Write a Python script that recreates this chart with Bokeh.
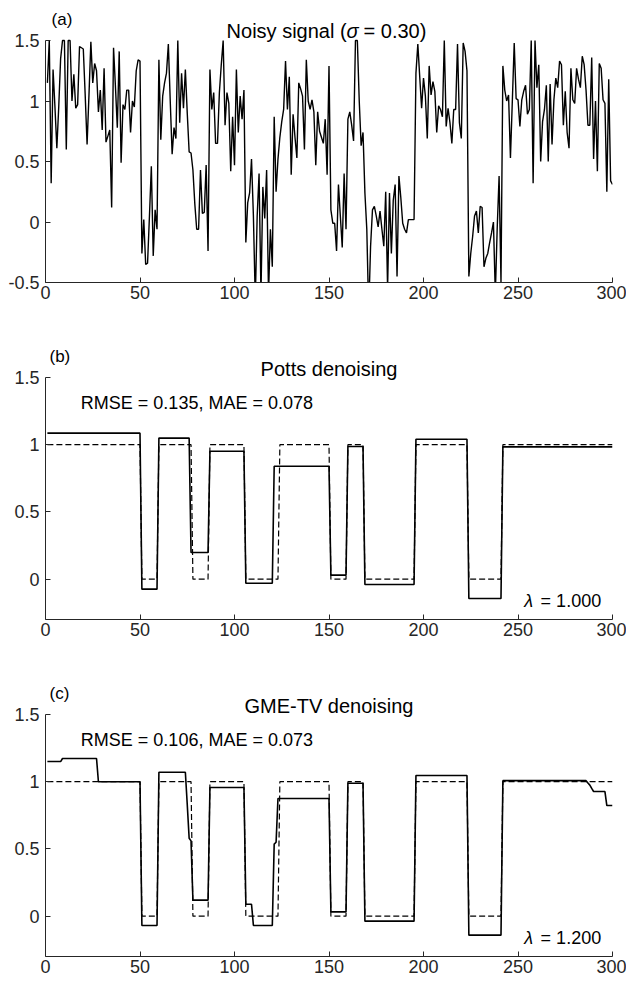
import numpy as np
from bokeh.plotting import figure
from bokeh.models import Range1d, FixedTicker, Label, CustomJSTickFormatter
from bokeh.layouts import column
from bokeh.embed import file_html
from bokeh.resources import INLINE

FONT = "Liberation Sans"

# ---------------- data ----------------
samples = list(range(1, 301))

noisy = [
    1.15, 1.50, 0.32, 1.26, 0.95, 0.61, 0.95, 1.35, 1.50, 1.50,
    0.60, 1.50, 1.50, 1.00, 1.22, 0.94, 0.97, 1.45, 1.44, 1.43,
    1.05, 0.64, 1.05, 1.49, 1.15, 1.31, 1.25, 0.91, 1.09, 0.76,
    1.27, 0.66, 0.71, 0.76, 0.12, 1.44, 1.12, 0.78, 1.41, 0.49,
    0.97, 0.93, 1.09, 1.09, 0.74, 1.00, 0.95, 1.25, 1.34, 1.33,
    -0.26, 0.02, -0.35, -0.34, 0.05, 0.46, -0.28, 0.10, -0.06, 1.34,
    0.68, 1.04, 1.15, 1.23, 1.47, 1.00, 0.56, 0.78, 0.69, 1.50,
    0.82, 1.23, 0.94, 1.26, 0.90, 0.58, 0.57, 0.43, 0.15, -0.06,
    -0.06, 0.43, 0.07, 0.08, 0.47, -0.24, 1.26, 0.93, 1.07, 0.65,
    0.65, 1.07, 1.30, 1.50, 0.80, 1.07, 0.98, 0.42, 0.87, 0.47,
    1.26, 0.74, 1.04, 0.85, 1.09, -0.17, 0.16, 0.24, 0.52, 0.05,
    -0.65, 0.05, 0.40, -0.60, 0.29, 0.03, 0.43, -0.60, -0.06, -0.37,
    0.87, 0.25, 0.52, 0.70, 0.83, 0.93, 1.33, 0.93, 1.20, 0.39,
    0.89, 0.70, 0.53, 1.15, 1.10, 1.04, 0.60, 1.34, 1.00, 0.93,
    1.01, 0.91, 0.47, 0.91, 0.75, 0.70, 0.65, 0.85, 0.39, 1.29,
    0.10, -0.01, -0.01, -0.24, 0.31, 0.05, -0.21, 0.40, -0.06, 0.85,
    0.91, 0.80, 0.67, 1.50, 1.50, 1.00, 0.63, 0.74, 0.24, -0.06,
    -0.75, -0.20, 0.10, 0.13, 0.05, -0.04, 0.09, -0.06, -0.20, 0.25,
    -0.55, 0.24, -0.26, 0.18, 0.31, -0.45, 0.38, 0.20, -0.01, -0.06,
    -0.09, 0.02, 0.02, 0.02, 0.02, 1.23, 1.47, 1.20, 0.94, 1.19,
    1.04, 0.69, 1.29, 1.05, 1.16, 1.08, 0.74, 0.96, 0.93, 0.87,
    1.50, 0.79, 0.94, 0.82, 0.65, 0.93, 0.93, 1.47, 0.82, 0.69,
    1.48, 1.41, 1.25, -0.45, -0.26, -0.12, 0.05, 0.09, -0.09, 0.13,
    0.12, -0.37, -0.30, -0.26, -0.17, -0.09, 0.00, -0.60, -0.05, 0.38,
    -0.50, 1.29, 1.09, 1.00, 1.05, 0.53, 1.00, 1.48, 1.02, 1.01,
    0.79, 1.01, 1.08, 1.13, 0.89, 0.93, 1.50, 0.32, 1.50, 1.11,
    1.30, 0.50, 0.83, 0.93, 1.13, 0.50, 1.14, 0.64, 1.01, 1.19,
    1.11, 1.33, 1.30, 0.80, 1.08, 0.74, 0.61, 1.27, 1.01, 0.98,
    1.27, 1.18, 1.11, 1.37, 1.30, 1.09, 0.80, 0.80, 1.36, 0.52,
    1.00, 0.42, 1.31, 1.27, 1.01, 0.98, 0.25, 1.18, 0.34, 0.31,
]

# piecewise-constant signals: first sample of each segment and its level
truth_starts = [1, 51, 60, 78, 87, 106, 124, 151, 160, 169, 196, 224, 242]
truth_levels = [1, 0, 1, 0, 1, 0, 1, 0, 1, 0, 1, 0, 1]

potts_starts = [1, 51, 60, 77, 87, 106, 121, 151, 160, 169, 196, 224, 242]
potts_levels = [1.086, -0.074, 1.049, 0.198, 0.952, -0.030, 0.840, 0.030,
                0.987, -0.040, 1.041, -0.144, 0.984]

gme_starts = [1, 9, 28, 51, 60, 75, 76, 77, 78, 87, 106, 110, 121, 122, 123,
              151, 160, 169, 196, 224, 242, 287, 288, 289, 290, 297]
gme_levels = [1.150, 1.173, 1.000, -0.069, 1.071, 0.830, 0.580, 0.560, 0.119,
              0.957, 0.089, -0.069, 0.536, 0.550, 0.875, 0.032, 0.989, -0.037,
              1.046, -0.141, 1.008, 0.990, 0.975, 0.950, 0.927, 0.823]

x_ticks = [0, 50, 100, 150, 200, 250, 300]
y_ticks_a = [-0.5, 0, 0.5, 1, 1.5]
y_ticks_bc = [0, 0.5, 1, 1.5]

title_a = ("Noisy signal (", "\u03c3", "= 0.30)")
title_b = "Potts denoising"
title_c = "GME-TV denoising"
metrics_b = "RMSE = 0.135, MAE = 0.078"
metrics_c = "RMSE = 0.106, MAE = 0.073"
lam_b = "= 1.000"
lam_c = "= 1.200"


def steps(starts, levels, n=300):
    bounds = list(starts) + [n + 1]
    out = []
    for i, lv in enumerate(levels):
        out += [lv] * (bounds[i + 1] - bounds[i])
    return out


truth = steps(truth_starts, truth_levels)
potts = steps(potts_starts, potts_levels)
gme = steps(gme_starts, gme_levels)

AX = "#262626"
W = 626
LEFT = 45
RIGHT = 14
TITLE_GAP = 9


def make_fig(height, bottom, ylo, yhi, head_px, plot_px, yticks):
    # frame extends above the axis top by head_px pixels (room for titles)
    span = yhi - ylo
    ytop = yhi + head_px * span / plot_px
    p = figure(width=W, height=height, x_range=Range1d(0, 300),
               y_range=Range1d(ylo, ytop), output_backend="svg",
               toolbar_location=None, min_border_left=LEFT,
               min_border_right=RIGHT, min_border_top=0,
               min_border_bottom=bottom)
    p.outline_line_color = None
    p.xgrid.visible = False
    p.ygrid.visible = False
    p.xaxis.ticker = FixedTicker(ticks=x_ticks)
    p.yaxis.ticker = FixedTicker(ticks=yticks)
    p.yaxis.bounds = (ylo, yhi)
    p.yaxis.formatter = CustomJSTickFormatter(code="return tick.toString();")
    for ax in (p.xaxis[0], p.yaxis[0]):
        ax.axis_line_color = AX
        ax.axis_line_width = 1
        ax.major_tick_line_color = AX
        ax.major_tick_in = 5
        ax.major_tick_out = 0
        ax.minor_tick_line_color = None
        ax.major_label_text_font = FONT
        ax.major_label_text_font_size = "18px"
        ax.major_label_text_color = AX
    p.xaxis.major_label_standoff = 3
    p.yaxis.major_label_standoff = 6
    return p


def lbl(p, x, y, txt, size="18px", align="left", baseline="middle",
        style="normal", xoff=0):
    p.add_layout(Label(x=x, y=y, x_offset=xoff, text=txt, text_font=FONT,
                       text_font_size=size, text_font_style=style,
                       text_color="black", text_align=align,
                       text_baseline=baseline))


def headers(p, tag, title, yhi, ppu, tag_dx):
    lbl(p, tag_dx, yhi + 21 / ppu, tag, size="17px")
    if title is not None:
        lbl(p, 150, yhi + TITLE_GAP / ppu, title, size="20px", align="center",
            baseline="alphabetic")


def metrics(p, txt, lam):
    lbl(p, 18.7, 1.31, txt)
    lbl(p, 294, -0.16, lam, align="right")
    lbl(p, 294, -0.16, "\u03bb", align="right", style="italic", xoff=-68)


# ---------------- panel (a) ----------------
ppu_a = 242 / 2.0
pa = make_fig(330, 48, -0.5, 1.5, 40, 242, y_ticks_a)
pa.line(samples, noisy, line_color="black", line_width=1.4)
headers(pa, "(a)", None, 1.5, ppu_a, 3.2)
ya = 1.5 + (TITLE_GAP + 1) / ppu_a
lbl(pa, 95.8, ya, title_a[0], size="20px", baseline="alphabetic")
lbl(pa, 95.8, ya, title_a[1], size="20px", baseline="alphabetic",
    style="italic", xoff=120)
lbl(pa, 95.8, ya, title_a[2], size="20px", baseline="alphabetic", xoff=137)

# ---------------- panel (b) ----------------
ppu_bc = 242 / 1.8
pb = make_fig(337, 48, -0.3, 1.5, 47, 242, y_ticks_bc)
pb.line(samples, truth, line_color="black", line_width=1.2, line_dash="6 3")
pb.line(samples, potts, line_color="black", line_width=1.6)
headers(pb, "(b)", title_b, 1.5, ppu_bc, 2.1)
metrics(pb, metrics_b, lam_b)

# ---------------- panel (c) ----------------
pc = make_fig(311, 22, -0.3, 1.5, 47, 242, y_ticks_bc)
pc.line(samples, truth, line_color="black", line_width=1.2, line_dash="6 3")
pc.line(samples, gme, line_color="black", line_width=1.6)
headers(pc, "(c)", title_c, 1.5, ppu_bc, 2.1)
metrics(pc, metrics_c, lam_c)

layout = column(pa, pb, pc, spacing=0)
open("out.html", "w").write(file_html(layout, INLINE))
